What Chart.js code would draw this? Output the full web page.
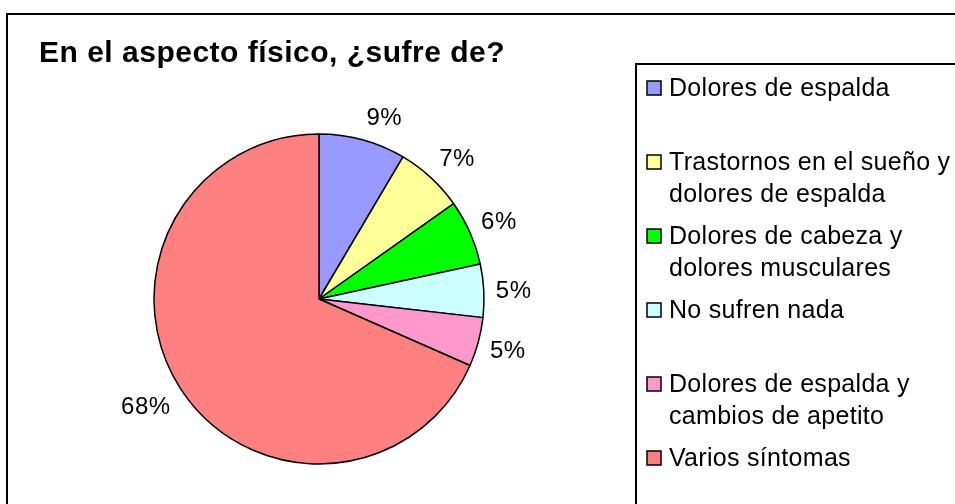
<!DOCTYPE html>
<html><head><meta charset="utf-8">
<script src="https://cdn.jsdelivr.net/npm/chart.js@4.4.0/dist/chart.umd.min.js"></script>
<style>html,body{margin:0;padding:0;background:#fff;overflow:hidden}</style>
</head><body>
<canvas id="c" width="955" height="504"></canvas>
<script>
const titleText = 'En el aspecto físico, ¿sufre de?';
const categories = [
  ['Dolores de espalda'],
  ['Trastornos en el sueño y', 'dolores de espalda'],
  ['Dolores de cabeza y', 'dolores musculares'],
  ['No sufren nada'],
  ['Dolores de espalda y', 'cambios de apetito'],
  ['Varios síntomas']
];
const values = [8.5, 6.7, 6.4, 5.2, 4.8, 68.4];
const colors = ['#9999FF', '#FFFF99', '#00FF00', '#CCFFFF', '#FF99CC', '#FF8080'];

const FONT = '"Liberation Sans", Arial, sans-serif';
const clamp = v => Math.max(-1, Math.min(1, v));

const decor = {
  id: 'decor',
  beforeDraw(chart) {
    const ctx = chart.ctx;
    ctx.save();
    ctx.fillStyle = '#fff';
    ctx.fillRect(0, 0, chart.width, chart.height);
    ctx.restore();
  },
  afterDraw(chart) {
    const ctx = chart.ctx;
    ctx.save();
    // outer frame
    ctx.strokeStyle = '#000';
    ctx.lineWidth = 2;
    ctx.strokeRect(7, 14, chart.width + 20, chart.height + 20);
    // title
    ctx.fillStyle = '#000';
    ctx.font = 'bold 30px ' + FONT;
    ctx.letterSpacing = '0.5px';
    ctx.textAlign = 'left';
    ctx.textBaseline = 'alphabetic';
    ctx.fillText(titleText, 39, 62);

    // percentage labels
    const meta = chart.getDatasetMeta(0);
    const total = values.reduce((a, b) => a + b, 0);
    ctx.font = '24px ' + FONT;
    ctx.letterSpacing = '0.5px';
    ctx.textAlign = 'center';
    ctx.textBaseline = 'middle';
    meta.data.forEach((arc, i) => {
      const p = arc.getProps(['x', 'y', 'startAngle', 'endAngle', 'outerRadius'], true);
      const a = (p.startAngle + p.endAngle) / 2;
      const txt = Math.round(values[i] / total * 100) + '%';
      const hw = ctx.measureText(txt).width / 2 + 1;
      const hh = 12.5;
      const px = p.x + (p.outerRadius + 11) * Math.cos(a);
      const py = p.y + (p.outerRadius + 11) * Math.sin(a);
      ctx.fillText(txt, px + hw * clamp(4 * Math.cos(a)), py + 2 + hh * clamp(1.5 * Math.sin(a)));
    });

    // legend
    ctx.lineWidth = 2;
    ctx.strokeStyle = '#000';
    ctx.strokeRect(636, 64, 400, 500);
    ctx.font = '25px ' + FONT;
    ctx.letterSpacing = '0.3px';
    ctx.textAlign = 'left';
    ctx.textBaseline = 'middle';
    const ds = chart.data.datasets[0];
    chart.data.labels.forEach((lines, i) => {
      const cy = 88 + i * 74;
      ctx.fillStyle = ds.backgroundColor[i];
      ctx.fillRect(647, cy - 7, 14, 14);
      ctx.lineWidth = 1.5;
      ctx.strokeRect(647, cy - 7, 14, 14);
      ctx.fillStyle = '#000';
      lines.forEach((ln, j) => ctx.fillText(ln, 669, cy + 1.5 + j * 32));
    });
    ctx.restore();
  }
};

new Chart(document.getElementById('c'), {
  type: 'pie',
  data: {
    labels: categories,
    datasets: [{
      data: values,
      backgroundColor: colors,
      borderColor: '#000',
      borderWidth: 1.5,
      radius: 165
    }]
  },
  options: {
    responsive: false,
    animation: false,
    layout: { padding: { left: 100, right: 417, top: 120, bottom: 26 } },
    plugins: {
      legend: { display: false },
      title: { display: false },
      tooltip: { enabled: false }
    }
  },
  plugins: [decor]
});
</script>
</body></html>
